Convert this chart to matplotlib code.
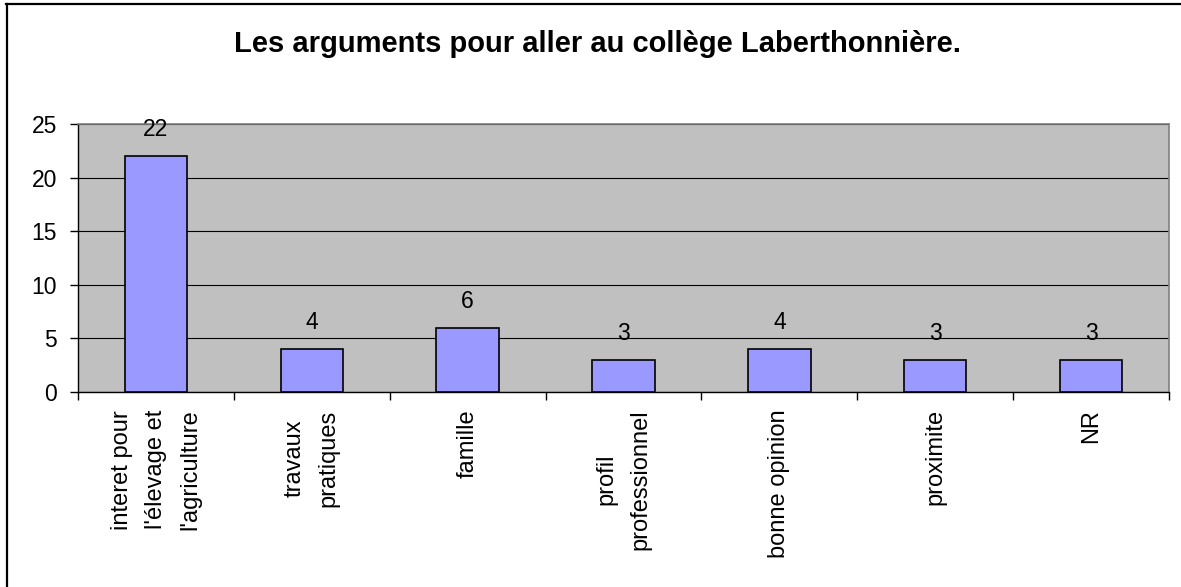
import numpy as np
import matplotlib
matplotlib.use("Agg")
import matplotlib.pyplot as plt
from matplotlib.lines import Line2D

categories = [
    "interet pour\nl'élevage et\nl'agriculture",
    "travaux\npratiques",
    "famille",
    "profil\nprofessionnel",
    "bonne opinion",
    "proximite",
    "NR",
]
counts = [22, 4, 6, 3, 4, 3, 3]
title = "Les arguments pour aller au collège Laberthonnière."

plt.rcParams['font.family'] = ['Liberation Sans', 'DejaVu Sans']

fig = plt.figure(figsize=(11.81, 5.87), dpi=100)
ax = fig.add_axes([78 / 1181, 1 - 392 / 587, (1169 - 78) / 1181, (392 - 124) / 587])
ax.set_facecolor('#C0C0C0')

x = np.arange(len(categories))
ax.bar(x, counts, width=0.4, color='#9999FF', edgecolor='black', linewidth=1.2, zorder=3)

for xi, v in zip(x, counts):
    ax.annotate(str(v), (xi, v), xytext=(0, 14.4), textcoords='offset points',
                ha='center', va='baseline', fontsize=16.5, zorder=4)

ax.set_xlim(-0.5, len(categories) - 0.5)
ax.set_ylim(0, 25)
ax.set_yticks(range(0, 26, 5))
ax.yaxis.grid(True, color='black', linewidth=0.8, zorder=1)
ax.set_axisbelow(True)

ax.set_xticks(x)
ax.set_xticklabels(categories, rotation=90, fontsize=17, linespacing=1.72,
                   multialignment='center')
ax.set_xticks(np.arange(-0.5, len(categories)), minor=True)
ax.tick_params(axis='x', which='major', length=0, pad=12.5)
ax.tick_params(axis='x', which='minor', length=6, width=1, color='black', direction='out')
ax.tick_params(axis='y', length=6, width=1, pad=9, labelsize=16.5, direction='out')

for side in ['top', 'right']:
    ax.spines[side].set_color('#808080')
    ax.spines[side].set_linewidth(1.2)
for side in ['left', 'bottom']:
    ax.spines[side].set_color('black')
    ax.spines[side].set_linewidth(1.0)

fig.text(598 / 1181, 1 - 52 / 587, title, ha='center', va='baseline',
         fontsize=21, fontweight='bold')

# outer frame (only left and top edges fall inside the image)
fig.add_artist(Line2D([7 / 1181, 7 / 1181], [-0.01, 1 - 3.5 / 587],
                      color='black', linewidth=1.6, transform=fig.transFigure))
fig.add_artist(Line2D([6 / 1181, 1.01], [1 - 4 / 587, 1 - 4 / 587],
                      color='black', linewidth=1.6, transform=fig.transFigure))

fig.savefig('out.png', dpi=100)
